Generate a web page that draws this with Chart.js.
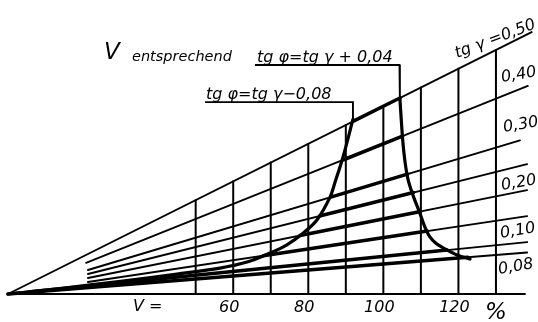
<!DOCTYPE html>
<html>
<head>
<meta charset="utf-8">
<script src="https://cdn.jsdelivr.net/npm/chart.js@4"></script>
<style>
html,body{margin:0;padding:0;background:#fff;}
#wrap{width:538px;height:322px;position:relative;}
</style>
</head>
<body>
<div id="wrap"><canvas id="c" width="538" height="322"></canvas></div>
<script>
// ---- data ----
const gammaSlopes = [0.50, 0.40, 0.30, 0.25, 0.20, 0.15, 0.10, 0.08];
const gammaStartV = [0, 20.8, 21.3, 21.3, 21.3, 21.3, 0, 0];
const gammaEndV   = [139.5, 138.5, 136.4, 138.3, 138.3, 138.3, 138.3, 138.3];
// thick part of each tg gamma line, between the two curves
const thickFromV  = [91.9, 89.4, 86.0, 83.0, 77.8, 68.0, 6.0, 0];
const thickToV    = [104.4, 105.1, 106.4, 108.0, 109.6, 111.7, 117.0, 122.5];
const gridV = [50, 60, 70, 80, 90, 100, 110, 120, 130];
const baseEndV = 137.7;
// curve tg phi = tg gamma - 0,08
const leftCurveV = [91.9, 89.2, 87.1, 85.8, 82.3, 78.6, 74.3, 69.8, 63.7, 56.5, 45, 30, 15, 0];
const leftCurveY = [46.5, 36.3, 29.7, 25.8, 19.7, 16.2, 13.1, 10.9, 8.5, 6.9, 5.3, 3.4, 1.6, 0];
// curve tg phi = tg gamma + 0,04
const rightCurveV = [104.4, 104.8, 105.2, 105.8, 106.6, 108.0, 109.7, 111.0, 112.4, 114.0, 115.9, 119.6, 123.1];
const rightCurveY = [52.2, 46.0, 40.5, 35.0, 30.4, 26.0, 21.6, 18.0, 15.2, 13.5, 12.3, 10.4, 9.3];
// leader lines to the two curve captions
const leaderLeftV  = [52.5, 91.9, 91.9];
const leaderLeftY  = [51.1, 51.1, 46.5];
const leaderRightV = [65.8, 104.3, 104.4];
const leaderRightY = [61.0, 61.0, 52.2];
const tickValues = [60, 80, 100, 120];
const tickLabels = ['60', '80', '100', '120'];
const gammaLabels = ['tg γ =0,50', '0,40', '0,30', '0,20', '0,10', '0,08'];
const captionPlus = 'tg φ=tg γ + 0,04';
const captionMinus = 'tg φ=tg γ\u22120,08';

// ---- build datasets ----
const pts = (vs, ys) => vs.map((v, i) => ({x: v, y: ys[i]}));
const datasets = [];
const line = (data, w, extra) => Object.assign({
  data, borderColor: '#000', borderWidth: w, pointRadius: 0, showLine: true,
  fill: false, tension: 0, clip: false, borderCapStyle: 'round'
}, extra || {});

// base line
datasets.push(line([{x: 0, y: 0}, {x: baseEndV, y: 0}], 2.2));
// vertical grid lines up to the top line
gridV.forEach(v => datasets.push(line([{x: v, y: 0}, {x: v, y: gammaSlopes[0] * v}], 2)));
// tg gamma lines
gammaSlopes.forEach((s, i) => datasets.push(line(
  [{x: gammaStartV[i], y: s * gammaStartV[i]}, {x: gammaEndV[i], y: s * gammaEndV[i]}], 1.9)));
// thick segments
gammaSlopes.forEach((s, i) => datasets.push(line(
  [{x: thickFromV[i], y: s * thickFromV[i]}, {x: thickToV[i], y: s * thickToV[i]}], 3.6)));
// curves
datasets.push(line(pts(leftCurveV, leftCurveY), 3.2, {tension: 0.35}));
datasets.push(line(pts(rightCurveV, rightCurveY), 3.2, {tension: 0.35}));
// leaders
datasets.push(line(pts(leaderLeftV, leaderLeftY), 1.9, {borderCapStyle: 'butt'}));
datasets.push(line(pts(leaderRightV, leaderRightY), 1.9, {borderCapStyle: 'butt'}));

const FONT = '"DejaVu Sans", "Liberation Sans", sans-serif';
const textPlugin = {
  id: 'texts',
  afterDraw(chart) {
    const ctx = chart.ctx, xs = chart.scales.x, ys = chart.scales.y;
    ctx.save();
    ctx.fillStyle = '#000';
    ctx.textBaseline = 'alphabetic';
    // header
    ctx.font = 'oblique 23px ' + FONT;
    ctx.fillText('V', 104, 59);
    ctx.font = 'oblique 14.5px ' + FONT;
    ctx.fillText('entsprechend', 132, 61);
    ctx.font = 'oblique 16px ' + FONT;
    ctx.fillText(captionPlus, 257, ys.getPixelForValue(leaderRightY[0]) - 3);
    ctx.fillText(captionMinus, 206, ys.getPixelForValue(leaderLeftY[0]) - 3);
    // gamma labels
    const lab = [[457, 58, -0.36], [502, 82, -0.17], [504, 132, -0.17], [502, 190, -0.17], [501, 238, -0.17], [499, 274, -0.17]];
    ctx.font = 'oblique 16px ' + FONT;
    gammaLabels.forEach((t, i) => {
      ctx.save();
      ctx.translate(lab[i][0], lab[i][1]);
      ctx.rotate(lab[i][2]);
      ctx.fillText(t, 0, 0);
      ctx.restore();
    });
    // bottom ticks
    ctx.font = 'oblique 16px ' + FONT;
    ctx.textAlign = 'center';
    tickValues.forEach((v, i) => ctx.fillText(tickLabels[i], xs.getPixelForValue(v) - 4, 312));
    ctx.textAlign = 'left';
    ctx.fillText('V =', 133, 311);
    ctx.font = 'oblique 23px ' + FONT;
    ctx.fillText('%', 485, 319);
    ctx.restore();
  }
};

new Chart(document.getElementById('c'), {
  type: 'scatter',
  data: {datasets},
  options: {
    responsive: false,
    animation: false,
    events: [],
    layout: {padding: {left: 8, right: 0, top: 0, bottom: 28}},
    plugins: {legend: {display: false}, tooltip: {enabled: false}},
    scales: {
      x: {type: 'linear', display: false, min: 0, max: 141.2},
      y: {type: 'linear', display: false, min: 0, max: 78.3}
    }
  },
  plugins: [textPlugin]
});
</script>
</body>
</html>
